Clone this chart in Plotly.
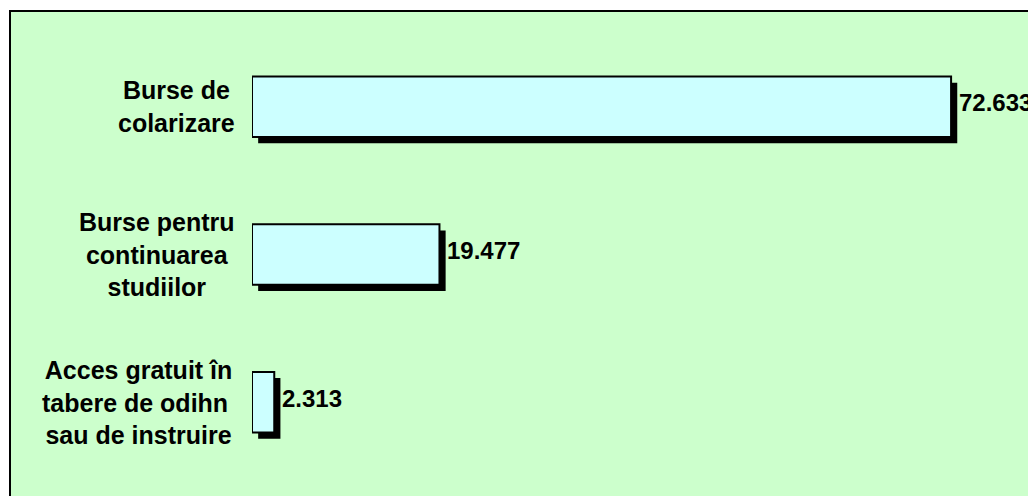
import plotly.graph_objects as go

categories = ["Burse de<br>colarizare",
              "Burse pentru<br>continuarea<br>studiilor",
              "Acces gratuit în<br>tabere de odihn\u00a0<br>sau de instruire"]
values = [72.633, 19.477, 2.313]
value_labels = ["72.633", "19.477", "2.313"]

BG = "#CCFFCC"
BAR = "#CCFFFF"
FONT = "Liberation Sans, Arial, sans-serif"

bar_w = 0.41
shadow_dx = 0.64      # shadow horizontal shift (data units)
shadow_dy = 0.042     # shadow vertical shift (category units)

fig = go.Figure()
# shadow
fig.add_trace(go.Bar(
    y=categories, x=values, base=shadow_dx, orientation="h",
    width=bar_w, offset=-bar_w / 2 + shadow_dy,
    marker=dict(color="black", line=dict(width=0)),
    hoverinfo="skip", showlegend=False))
# bars
fig.add_trace(go.Bar(
    y=categories, x=values, orientation="h",
    width=bar_w, offset=-bar_w / 2,
    marker=dict(color=BAR, line=dict(color="black", width=2)),
    showlegend=False))

annotations = []
for c in categories:
    annotations.append(dict(
        x=0, xref="paper", y=c, yref="y", text="<b>" + c + "</b>",
        showarrow=False, xanchor="right", yanchor="middle", align="center",
        xshift=-15, font=dict(family=FONT, size=25, color="black")))
for c, v, t in zip(categories, values, value_labels):
    annotations.append(dict(
        x=v, xref="x", y=c, yref="y", text="<b>" + t + "</b>",
        showarrow=False, xanchor="left", yanchor="middle",
        xshift=6, yshift=4, font=dict(family=FONT, size=24, color="black")))

L, R, T, B = 252, 6, 33, 20
W, H = 1028, 496
pw, ph = W - L - R, H - T - B

fig.update_layout(
    width=W, height=H,
    margin=dict(l=L, r=R, t=T, b=B, pad=0),
    paper_bgcolor="white", plot_bgcolor="rgba(0,0,0,0)",
    barmode="overlay",
    xaxis=dict(range=[0, 80], showgrid=False, zeroline=False,
               showticklabels=False, showline=False, ticks=""),
    yaxis=dict(autorange="reversed", showgrid=False, zeroline=False,
               showticklabels=False, showline=False, ticks="",
               categoryorder="array", categoryarray=categories),
    annotations=annotations,
    shapes=[dict(type="rect", xref="paper", yref="paper",
                 x0=(10 - L) / pw, x1=1.3,
                 y0=-0.3, y1=(H - B - 11) / ph,
                 fillcolor=BG, line=dict(color="black", width=2),
                 layer="below")],
)

fig.write_html(
    "out.html",
    config={"displayModeBar": False},
    post_script="document.body.style.margin='0';document.body.style.overflow='hidden';",
)
